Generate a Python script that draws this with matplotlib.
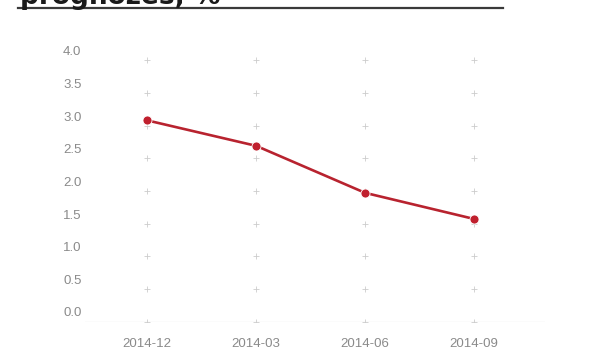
import matplotlib
matplotlib.use("Agg")
import matplotlib.pyplot as plt
from matplotlib.transforms import ScaledTranslation
import numpy as np

categories = ["2014-12", "2014-03", "2014-06", "2014-09"]
values = [3.08, 2.69, 1.97, 1.57]
ytick_values = [0.0, 0.5, 1.0, 1.5, 2.0, 2.5, 3.0, 3.5, 4.0]
ytick_labels = ["0.0", "0.5", "1.0", "1.5", "2.0", "2.5", "3.0", "3.5", "4.0"]
title = "prognozes, %"

plt.rcParams['font.family'] = ['Liberation Sans', 'DejaVu Sans']

fig = plt.figure(figsize=(6, 3.6), dpi=100)
ax = fig.add_axes([85/600, 1 - 321.5/360, 460/600, (321.5 - 50.5)/360])

x = np.arange(len(categories))

# decorative plus grid
gx, gy = np.meshgrid(x, ytick_values)
ax.scatter(gx.ravel(), gy.ravel(), marker='+', s=22, color='#cccccc',
           linewidths=0.6, zorder=1)

ax.axhline(0, color='#efefef', lw=1.0, zorder=0)

ax.plot(x, values, color='#b8232f', lw=1.9, zorder=3,
        marker='o', markersize=6.5, markerfacecolor='#c0202e',
        markeredgecolor='white', markeredgewidth=0.6)

ax.set_xlim(-0.57, 3.65)
ax.set_ylim(0, 4.15)
ax.set_xticks(x)
ax.set_xticklabels(categories, fontsize=9.5, color='#8a8a8a')
ax.set_yticks(ytick_values)
ax.set_yticklabels(ytick_labels, fontsize=9.5, color='#8a8a8a')
ax.tick_params(axis='both', length=0)
ax.tick_params(axis='x', pad=12)
ax.tick_params(axis='y', pad=2.5)
offset = ScaledTranslation(0, 0.095, fig.dpi_scale_trans)
for lab in ax.get_yticklabels():
    lab.set_transform(lab.get_transform() + offset)
for s in ax.spines.values():
    s.set_visible(False)

# cut-off title and rule
fig.text(20/600, 1 - 4/360, title, fontsize=19, fontweight='bold',
         color='#1a1a1a', ha='left', va='baseline', family=['DejaVu Sans'])
fig.add_artist(plt.Line2D([18/600, 503/600], [1 - 7.5/360, 1 - 7.5/360],
                          color='#3a3a3a', lw=1.6, transform=fig.transFigure))

fig.savefig("out.png", dpi=100, facecolor='white')
